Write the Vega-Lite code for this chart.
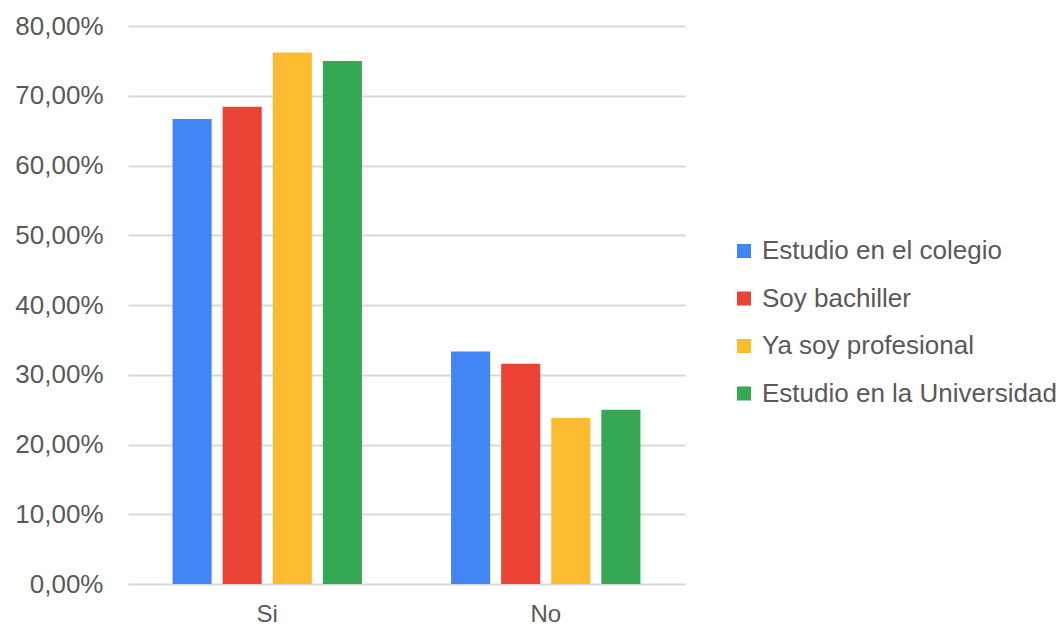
{
  "$schema": "https://vega.github.io/schema/vega-lite/v6.json",
  "autosize": "none",
  "width": 557,
  "height": 558,
  "padding": {"left": 128, "top": 26, "right": 374, "bottom": 43},
  "background": "white",
  "config": {
    "font": "Liberation Sans",
    "view": {"stroke": null}
  },
  "data": {
    "values": [
      {"respuesta": "Si", "grupo": "Estudio en el colegio", "valor": 0.6667},
      {"respuesta": "Si", "grupo": "Soy bachiller", "valor": 0.6842},
      {"respuesta": "Si", "grupo": "Ya soy profesional", "valor": 0.7619},
      {"respuesta": "Si", "grupo": "Estudio en la Universidad", "valor": 0.75},
      {"respuesta": "No", "grupo": "Estudio en el colegio", "valor": 0.3333},
      {"respuesta": "No", "grupo": "Soy bachiller", "valor": 0.3158},
      {"respuesta": "No", "grupo": "Ya soy profesional", "valor": 0.2381},
      {"respuesta": "No", "grupo": "Estudio en la Universidad", "valor": 0.25}
    ]
  },
  "mark": {"type": "bar"},
  "encoding": {
    "x": {
      "field": "respuesta",
      "type": "nominal",
      "sort": ["Si", "No"],
      "scale": {"paddingInner": 0.32, "paddingOuter": 0.16},
      "axis": {
        "title": null,
        "labelAngle": 0,
        "ticks": false,
        "domain": false,
        "labelFontSize": 24,
        "labelColor": "#595959",
        "labelPadding": 18
      }
    },
    "xOffset": {
      "field": "grupo",
      "type": "nominal",
      "sort": ["Estudio en el colegio", "Soy bachiller", "Ya soy profesional", "Estudio en la Universidad"],
      "scale": {"paddingInner": 0.22, "paddingOuter": 0}
    },
    "y": {
      "field": "valor",
      "type": "quantitative",
      "scale": {"domain": [0, 0.8], "nice": false},
      "axis": {
        "title": null,
        "values": [0, 0.1, 0.2, 0.3, 0.4, 0.5, 0.6, 0.7, 0.8],
        "labelExpr": "replace(format(datum.value, '.2%'), '.', ',')",
        "ticks": false,
        "domain": false,
        "grid": true,
        "gridColor": "#d9d9d9",
        "gridWidth": 2,
        "labelFontSize": 26,
        "labelColor": "#595959",
        "labelPadding": 25
      }
    },
    "color": {
      "field": "grupo",
      "type": "nominal",
      "sort": ["Estudio en el colegio", "Soy bachiller", "Ya soy profesional", "Estudio en la Universidad"],
      "scale": {
        "domain": ["Estudio en el colegio", "Soy bachiller", "Ya soy profesional", "Estudio en la Universidad"],
        "range": ["#4285F4", "#EA4335", "#FBBC2F", "#34A853"]
      },
      "legend": {
        "title": null,
        "orient": "none",
        "legendX": 603,
        "legendY": 212,
        "padding": 0,
        "symbolType": "square",
        "symbolSize": 196,
        "symbolStrokeWidth": 0,
        "labelFontSize": 26,
        "labelColor": "#595959",
        "labelOffset": 5,
        "rowPadding": 21.5,
        "labelLimit": 400
      }
    }
  }
}
